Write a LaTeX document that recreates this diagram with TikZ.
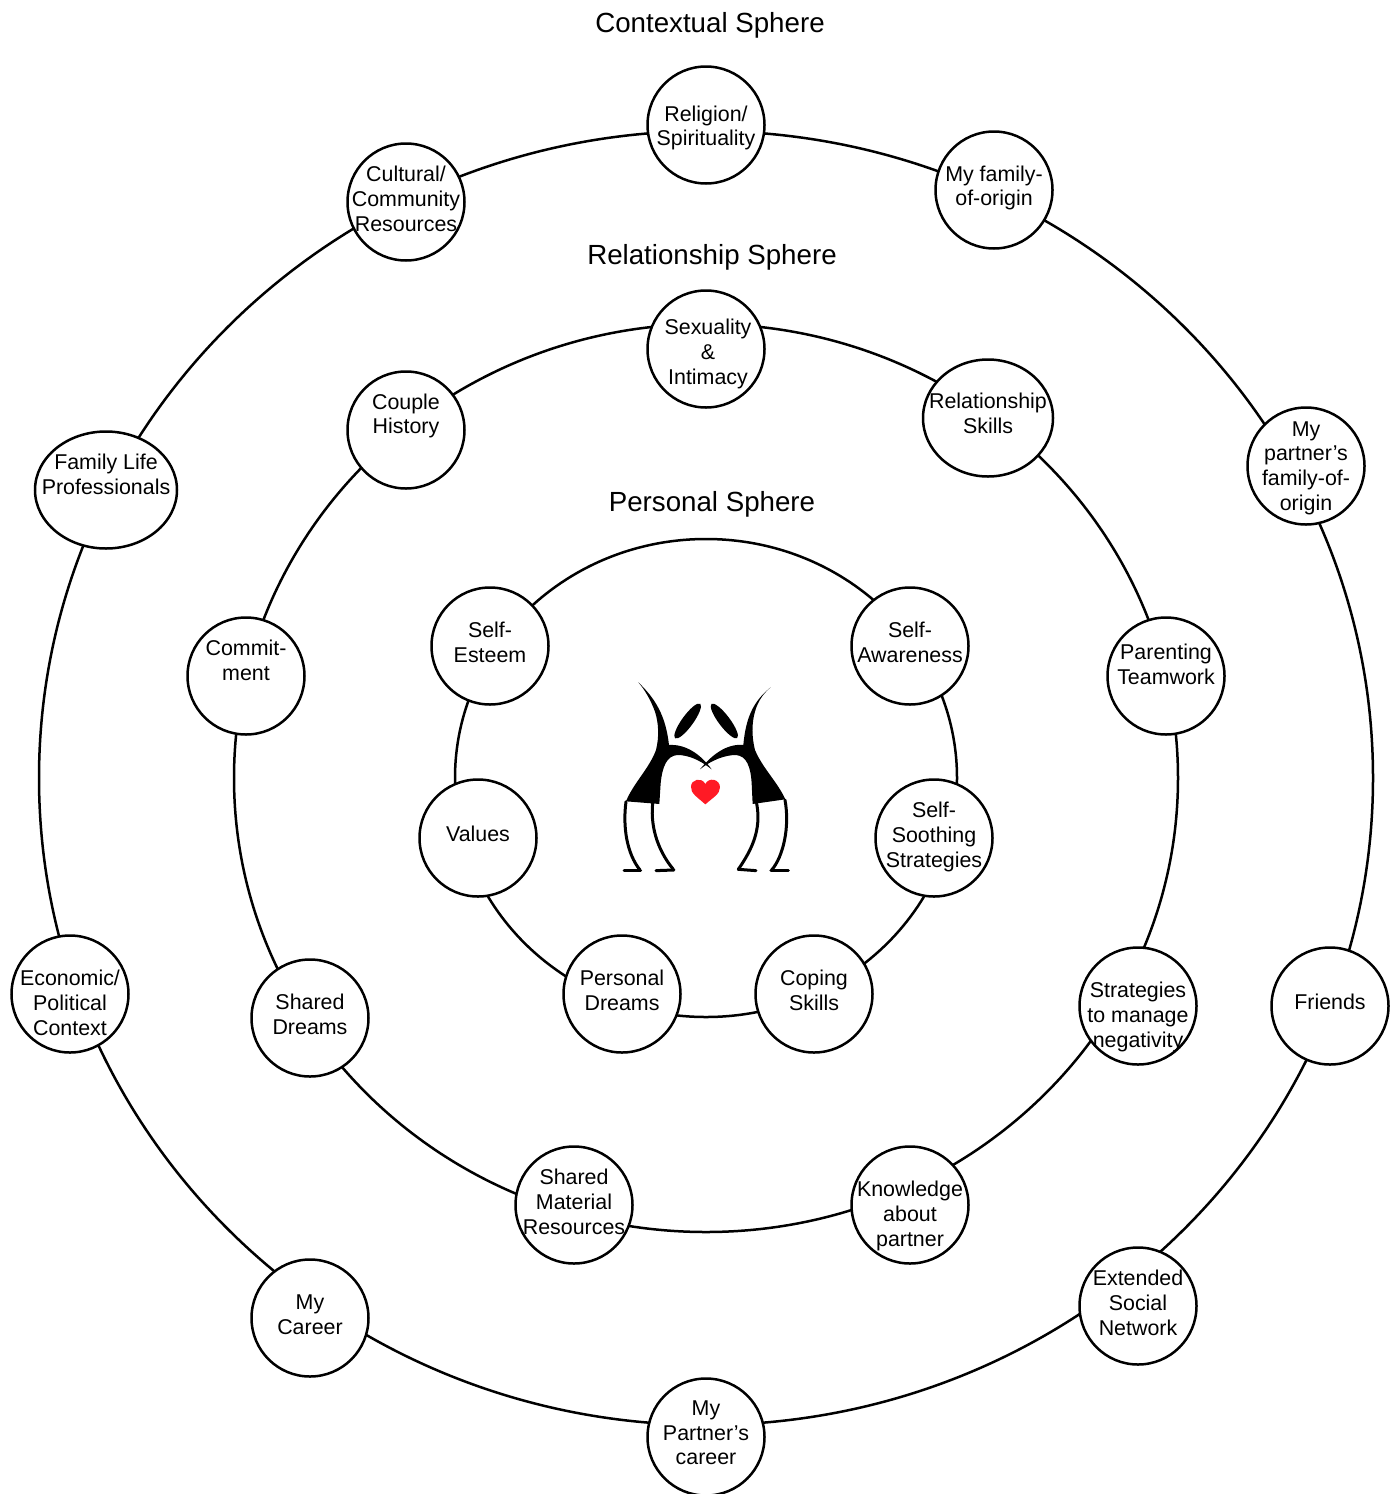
\documentclass[tikz,border=0pt]{standalone}
\usepackage{fontspec}
\setmainfont{Liberation Sans}
\usetikzlibrary{shapes.geometric}
\tikzset{
  ringline/.style={draw=black,line width=2.5pt,ellipse,inner sep=0pt,outer sep=0pt},
  ballshape/.style={draw=black,fill=white,line width=2.5pt,ellipse,inner sep=0pt,outer sep=0pt,minimum height=117pt,minimum width=#1},
  ballshape/.default=117pt,
  balltext/.style={align=center,inner sep=0pt,font=\fontsize{21.4}{24.7}\selectfont},
  spheretitle/.style={inner sep=0pt,font=\fontsize{27.7}{30}\selectfont},
  figline/.style={draw=black,line width=3pt,line cap=round}
}
% name, x, y, width, text x, text y, text
\newcommand{\ballnode}[7]{%
  \node[ballshape=#4] (#1) at (#2,#3) {};
  \node[balltext] (#1-text) at (#5,#6) {#7};
}
\begin{document}
\begin{tikzpicture}[x=1pt,y=-1pt]
\useasboundingbox (0,0) rectangle (1393,1494);
% rings
\coordinate (centre) at (706,778);
\node[ringline,minimum width=1334pt,minimum height=1294pt] (outerring) at (centre) {};
\node[ringline,minimum width=944pt,minimum height=908pt] (middlering) at (centre) {};
\node[ringline,minimum width=502pt,minimum height=478pt] (innerring) at (centre) {};
% titles
\node[spheretitle] (t1) at (710,25) {Contextual Sphere};
\node[spheretitle] (t2) at (712,257) {Relationship Sphere};
\node[spheretitle] (t3) at (712,504) {Personal Sphere};
% outer
\ballnode{religion}{706}{125}{117pt}{706}{128}{Religion/\\Spirituality}
\ballnode{family}{994}{190}{117pt}{994}{188}{My family-\\of-origin}
\ballnode{pfamily}{1306}{466}{117pt}{1306}{468}{My\\partner’s\\family-of-\\origin}
\ballnode{friends}{1330}{1006}{117pt}{1330}{1002}{Friends}
\ballnode{social}{1138}{1306}{117pt}{1138}{1303}{Extended\\Social\\Network}
\ballnode{pcareer}{706}{1437}{117pt}{706}{1433}{My\\Partner’s\\career}
\ballnode{mycareer}{310}{1318}{117pt}{310}{1315}{My\\Career}
\ballnode{economic}{70}{994}{117pt}{70}{1003}{Economic/\\Political\\Context}
\ballnode{flp}{106}{490}{142pt}{106}{474}{Family Life\\Professionals}
\ballnode{cultural}{406}{202}{117pt}{406}{199}{Cultural/\\Community\\Resources}
% middle
\ballnode{sexuality}{706}{349}{117pt}{708}{354}{Sexuality\\\&\\Intimacy}
\ballnode{relskills}{988}{418}{130pt}{988}{413}{Relationship\\Skills}
\ballnode{parenting}{1166}{676}{117pt}{1166}{664}{Parenting\\Teamwork}
\ballnode{negativity}{1138}{1006}{117pt}{1138}{1017}{Strategies\\to manage\\negativity}
\ballnode{knowledge}{910}{1205}{117pt}{910}{1216}{Knowledge\\about\\partner}
\ballnode{material}{574}{1205}{117pt}{574}{1202}{Shared\\Material\\Resources}
\ballnode{shdreams}{310}{1018}{117pt}{310}{1014}{Shared\\Dreams}
\ballnode{commit}{246}{676}{117pt}{246}{660}{Commit-\\ment}
\ballnode{history}{406}{430}{117pt}{406}{416}{Couple\\History}
% inner
\ballnode{awareness}{910}{646}{117pt}{910}{642}{Self-\\Awareness}
\ballnode{soothing}{934}{838}{117pt}{934}{837}{Self-\\Soothing\\Strategies}
\ballnode{coping}{814}{994}{117pt}{814}{990}{Coping\\Skills}
\ballnode{pdreams}{622}{994}{117pt}{622}{990}{Personal\\Dreams}
\ballnode{values}{478}{838}{117pt}{478}{834}{Values}
\ballnode{esteem}{490}{646}{117pt}{490}{642}{Self-\\Esteem}
% central figure, in units of a third of a pixel
\begin{scope}[shift={(600,660)},x=0.3333pt,y=-0.3333pt]
  \fill[black] (115,67) .. controls (165,115) and (197,165) .. (207,255)
    .. controls (255,252) and (300,280) .. (335,328)
    .. controls (300,300) and (265,285) .. (232,285)
    .. controls (200,288) and (187,320) .. (182,370)
    -- (178,432) -- (78,424)
    .. controls (100,370) and (148,325) .. (168,270)
    .. controls (178,230) and (176,190) .. (165,155)
    .. controls (152,120) and (135,90) .. (115,67) -- cycle;
  \fill[black] (512,82) .. controls (465,120) and (438,165) .. (430,255)
    .. controls (380,250) and (335,285) .. (300,328)
    .. controls (335,300) and (375,285) .. (408,285)
    .. controls (440,288) and (452,320) .. (455,370)
    -- (458,432) -- (556,418)
    .. controls (532,365) and (488,325) .. (465,270)
    .. controls (455,230) and (455,190) .. (465,155)
    .. controls (473,125) and (490,100) .. (512,82) -- cycle;
  \fill[black,rotate around={54:(263,183)}] (263,183) ellipse [x radius=64,y radius=17];
  \fill[black,rotate around={-53:(373,183)}] (373,183) ellipse [x radius=64,y radius=17];
  \draw[figline] (78,425) .. controls (68,500) and (80,580) .. (120,630);
  \draw[figline] (72,632) -- (122,632);
  \draw[figline] (158,430) .. controls (150,510) and (180,580) .. (220,628);
  \draw[figline] (168,632) -- (222,630);
  \draw[figline] (470,430) .. controls (485,510) and (455,570) .. (415,628);
  \draw[figline] (415,628) -- (468,632);
  \draw[figline] (555,420) .. controls (570,500) and (550,590) .. (515,630);
  \draw[figline] (513,632) -- (565,632);
  \fill[fill={rgb,255:red,255;green,26;blue,37}]
    (316,433) .. controls (290,410) and (272,400) .. (273,380)
    .. controls (273,358) and (305,350) .. (316,372)
    .. controls (327,350) and (360,358) .. (360,382)
    .. controls (360,402) and (340,412) .. (316,433) -- cycle;
\end{scope}
\end{tikzpicture}
\end{document}
